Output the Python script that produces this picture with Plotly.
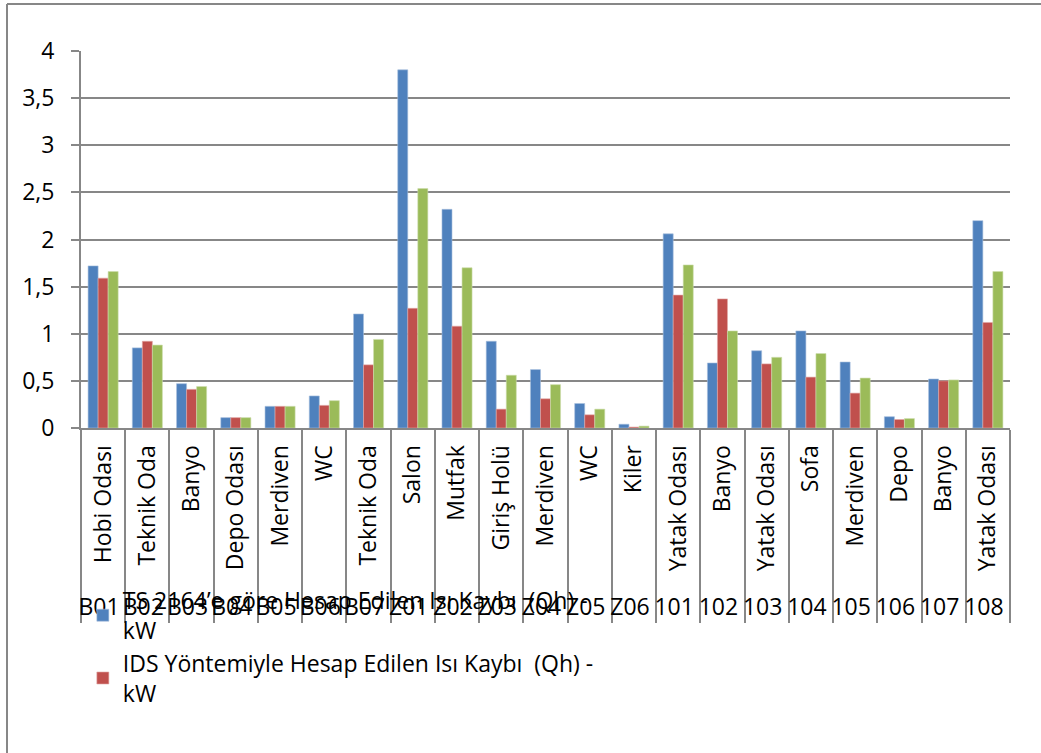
import plotly.graph_objects as go

codes = ["B01", "B02", "B03", "B04", "B05", "B06", "B07", "Z01", "Z02", "Z03", "Z04",
         "Z05", "Z06", "101", "102", "103", "104", "105", "106", "107", "108"]
rooms = ["Hobi Odası", "Teknik Oda", "Banyo", "Depo Odası", "Merdiven", "WC", "Teknik Oda",
         "Salon", "Mutfak", "Giriş Holü", "Merdiven", "WC", "Kiler", "Yatak Odası", "Banyo",
         "Yatak Odası", "Sofa", "Merdiven", "Depo", "Banyo", "Yatak Odası"]

ts2164 = [1.72, 0.85, 0.47, 0.11, 0.23, 0.34, 1.21, 3.80, 2.32, 0.92, 0.62,
          0.26, 0.04, 2.06, 0.69, 0.82, 1.03, 0.70, 0.12, 0.52, 2.20]
ids = [1.59, 0.92, 0.41, 0.11, 0.23, 0.24, 0.67, 1.27, 1.08, 0.20, 0.31,
       0.14, 0.01, 1.41, 1.37, 0.68, 0.54, 0.37, 0.09, 0.50, 1.12]
third = [1.66, 0.88, 0.44, 0.11, 0.23, 0.29, 0.94, 2.54, 1.70, 0.56, 0.46,
         0.20, 0.02, 1.73, 1.03, 0.75, 0.79, 0.53, 0.10, 0.51, 1.66]

y_ticks = [0, 0.5, 1, 1.5, 2, 2.5, 3, 3.5, 4]
y_ticktext = ["0", "0,5", "1", "1,5", "2", "2,5", "3", "3,5", "4"]

name_ts = "TS 2164’e göre Hesap Edilen Isı Kaybı  (Qh) -<br>kW"
name_ids = "IDS Yöntemiyle Hesap Edilen Isı Kaybı  (Qh) -<br>kW"
name_third = "Ortalama Isı Kaybı  (Qh) - kW"

GRID = "#878787"
FONT = "Open Sans"
FS = 23

# a trailing no-break space keeps the rotated names a little away from the axis
room_labels = [r + "\u00a0" for r in rooms]
x = [codes, room_labels]

fig = go.Figure()
fig.add_trace(go.Bar(x=x, y=ts2164, name=name_ts,
                     marker=dict(color="#4F81BD", line=dict(color="#A7C0DE", width=0.6))))
fig.add_trace(go.Bar(x=x, y=ids, name=name_ids,
                     marker=dict(color="#C0504D", line=dict(color="#E0A8A6", width=0.6))))
fig.add_trace(go.Bar(x=x, y=third, name=name_third, showlegend=False,
                     marker=dict(color="#9BBB59", line=dict(color="#CDDDAC", width=0.6))))

fig.update_layout(
    width=1041, height=753,
    paper_bgcolor="white", plot_bgcolor="white",
    margin=dict(l=81, r=31, t=51, b=325, autoexpand=False),
    barmode="group", bargap=0.32, bargroupgap=0,
    font=dict(family=FONT, size=FS, color="black"),
    legend=dict(x=0.002, y=-0.40, xanchor="left", yanchor="top",
                bgcolor="rgba(0,0,0,0)", font=dict(family=FONT, size=FS, color="black"),
                tracegroupgap=0, itemwidth=30),
    showlegend=True,
)

fig.update_xaxes(
    type="multicategory",
    tickangle=-90,
    showline=True, linecolor=GRID, linewidth=2,
    showgrid=False,
    showdividers=True, dividercolor=GRID, dividerwidth=2,
    ticks="", automargin=False,
    tickfont=dict(family=FONT, size=FS, color="black"),
)
fig.update_yaxes(
    range=[0, 4], tickvals=y_ticks, ticktext=y_ticktext,
    showline=True, linecolor=GRID, linewidth=2,
    showgrid=True, gridcolor=GRID, gridwidth=2,
    zeroline=False,
    ticks="outside", ticklen=8, tickcolor=GRID, tickwidth=2,
    ticklabelstandoff=12, automargin=False,
    tickfont=dict(family=FONT, size=FS, color="black"),
)

# outer chart frame (left and top edges visible)
fig.add_shape(type="line", xref="paper", yref="paper",
              x0=(7 - 81) / 929, x1=(7 - 81) / 929, y0=(428 - 4) / 377, y1=-1.2,
              line=dict(color=GRID, width=2))
fig.add_shape(type="line", xref="paper", yref="paper",
              x0=(7 - 81) / 929, x1=1.2, y0=(428 - 4) / 377, y1=(428 - 4) / 377,
              line=dict(color=GRID, width=2))

fig.write_html("out.html")
